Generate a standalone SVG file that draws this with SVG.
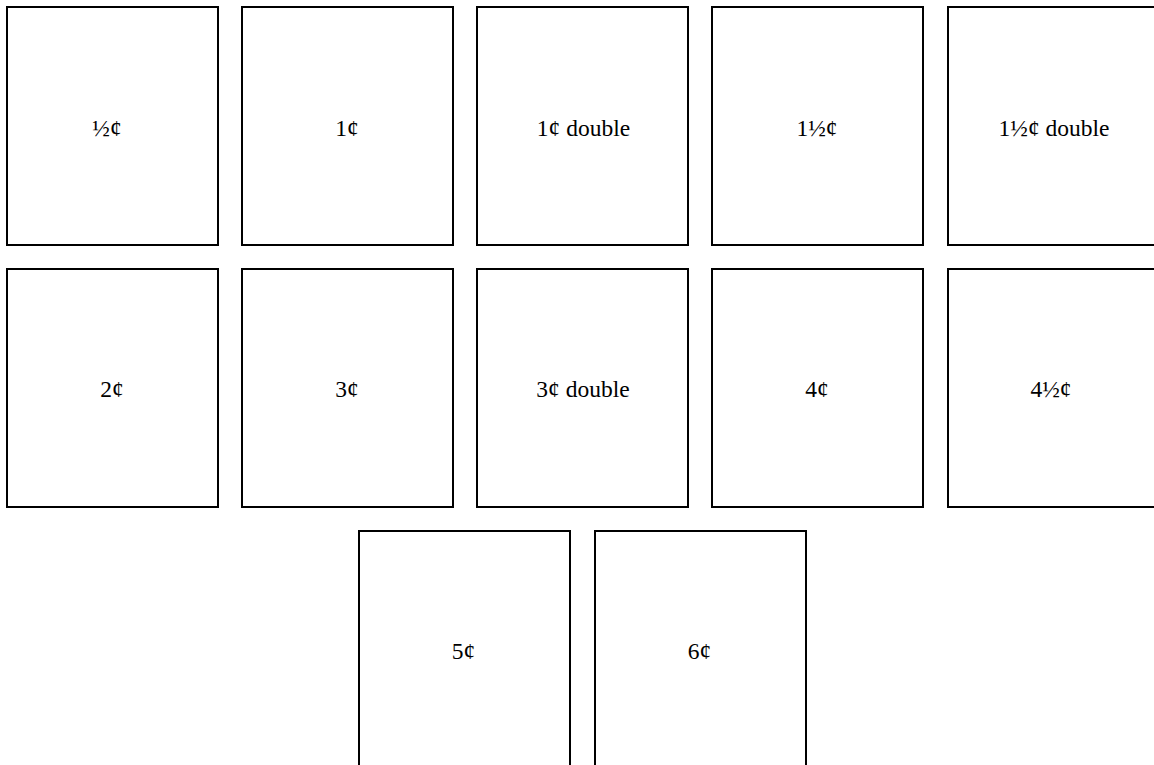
<svg xmlns="http://www.w3.org/2000/svg" width="1154" height="765" viewBox="0 0 1154 765">
<style>
.box{fill:#fff;stroke:#000;stroke-width:2}
.lbl{font-family:"Liberation Serif","Times New Roman",serif;font-size:23.5px;fill:#000;text-anchor:middle}
</style>
<rect width="1154" height="765" fill="#fff"/>
<g id="n1"><rect class="box" x="7" y="7" width="211" height="238"/><text class="lbl" x="107" y="135.5">½¢</text></g>
<g id="n2"><rect class="box" x="242" y="7" width="211" height="238"/><text class="lbl" x="347" y="135.5">1¢</text></g>
<g id="n3"><rect class="box" x="477" y="7" width="211" height="238"/><text class="lbl" x="583.5" y="135.5">1¢ double</text></g>
<g id="n4"><rect class="box" x="712" y="7" width="211" height="238"/><text class="lbl" x="817" y="135.5">1½¢</text></g>
<g id="n5"><rect class="box" x="948" y="7" width="211" height="238"/><text class="lbl" x="1054" y="135.5">1½¢ double</text></g>
<g id="n6"><rect class="box" x="7" y="269" width="211" height="238"/><text class="lbl" x="112" y="397">2¢</text></g>
<g id="n7"><rect class="box" x="242" y="269" width="211" height="238"/><text class="lbl" x="347" y="397">3¢</text></g>
<g id="n8"><rect class="box" x="477" y="269" width="211" height="238"/><text class="lbl" x="583" y="397">3¢ double</text></g>
<g id="n9"><rect class="box" x="712" y="269" width="211" height="238"/><text class="lbl" x="817" y="397">4¢</text></g>
<g id="n10"><rect class="box" x="948" y="269" width="211" height="238"/><text class="lbl" x="1051" y="397">4½¢</text></g>
<g id="n11"><rect class="box" x="359" y="531" width="211" height="238"/><text class="lbl" x="463.5" y="658.5">5¢</text></g>
<g id="n12"><rect class="box" x="595" y="531" width="211" height="238"/><text class="lbl" x="699.5" y="658.5">6¢</text></g>
<g id="connectors"></g>
</svg>
